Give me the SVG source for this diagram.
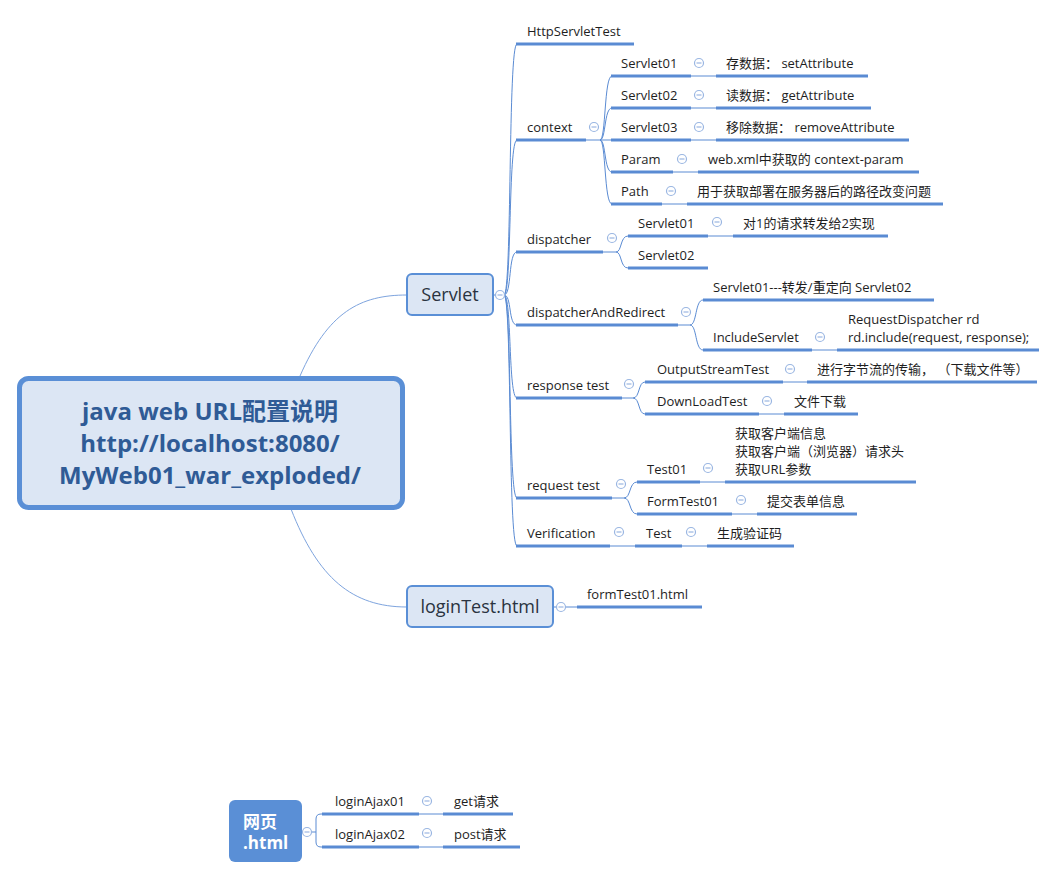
<svg xmlns="http://www.w3.org/2000/svg" width="1057" height="878" viewBox="0 0 1057 878">
<style>
text{font-family:"Open Sans","Noto Sans CJK SC",sans-serif;font-size:13px;fill:#1e1e1e}
.ul{stroke:#5a8bd3;stroke-width:3;fill:none}
.cn{stroke:#5a8bd3;stroke-width:1;fill:none}
.cc{stroke:#7ea4de;stroke-width:1;fill:none}
.tg circle{fill:#fff;stroke:#9ab6e2;stroke-width:1.2}
.tg line{stroke:#9ab6e2;stroke-width:1.2}
.box{fill:#dce6f4;stroke:#5a8fd6;stroke-width:2}
.big{font-size:18px;fill:#2a3340}
.root{font-size:24px;font-weight:bold;fill:#2f5b96}
</style>
<defs>
<g id="tog" class="tg"><circle cx="0" cy="0" r="4.5"/><line x1="-2.5" y1="0" x2="2.5" y2="0"/></g>
</defs>
<g id="connectors">
<path class="cc" d="M300,376 C328,312 360,295 407,295"/>
<path class="cc" d="M291,509 C318,578 352,607 407,607"/>
<path class="cn" d="M493,295 H504"/>
<path class="cn" d="M504,295 C512,295 508,44 517,44"/>
<path class="cn" d="M504,295 C512,295 508,140 517,140"/>
<path class="cn" d="M504,295 C512,295 508,252 517,252"/>
<path class="cn" d="M504,295 C512,295 508,325 517,325"/>
<path class="cn" d="M504,295 C512,295 508,398 517,398"/>
<path class="cn" d="M504,295 C512,295 508,498 517,498"/>
<path class="cn" d="M504,295 C512,295 508,546 517,546"/>
<path class="cn" d="M586,140 H600 C606,140 604,76 612,76"/>
<path class="cn" d="M600,140 C606,140 604,108 612,108"/>
<path class="cn" d="M600,140 H612"/>
<path class="cn" d="M600,140 C606,140 604,172 612,172"/>
<path class="cn" d="M600,140 C606,140 604,204 612,204"/>
<path class="cn" d="M691,76 H716 M691,108 H716 M691,140 H716 M673,172 H698 M662,204 H687"/>
<path class="cn" d="M603,252 H616 C622,252 620,236 628,236 M616,252 C622,252 620,268 628,268"/>
<path class="cn" d="M708,236 H733"/>
<path class="cn" d="M678,325 H690 C697,325 695,300 703,300 M690,325 C697,325 695,350 703,350"/>
<path class="cn" d="M812,350 H837"/>
<path class="cn" d="M622,398 H633 C640,398 638,382 645,382 M633,398 C640,398 638,414 645,414"/>
<path class="cn" d="M783,382 H807 M759,414 H784"/>
<path class="cn" d="M612,498 H624 C631,498 629,482 637,482 M624,498 C631,498 629,514 637,514"/>
<path class="cn" d="M700,482 H725 M732,514 H757"/>
<path class="cn" d="M610,546 H635 M682,546 H707"/>
<path class="cn" d="M553,607 H577"/>
<path class="cn" d="M302,832 H316 M324,814 H321 Q316,814 316,819 V842 Q316,847 321,847 H324"/>
<path class="cn" d="M419,814 H443 M419,847 H443"/>
</g>
<g id="root">
<rect x="19.5" y="378.5" width="383" height="129" rx="9" fill="#dce6f4" stroke="#5a8fd6" stroke-width="5"/>
<text class="root" x="210" y="420" text-anchor="middle">java web URL配置说明</text>
<text class="root" x="210" y="452" text-anchor="middle">http://localhost:8080/</text>
<text class="root" x="210" y="484" text-anchor="middle">MyWeb01_war_exploded/</text>
</g>
<g id="servlet">
<rect class="box" x="407" y="274" width="86" height="41" rx="5"/>
<text class="big" x="450" y="301" text-anchor="middle">Servlet</text>
<use href="#tog" x="500" y="295"/>
</g>
<g id="httpservlettest"><line class="ul" x1="516" y1="44" x2="634" y2="44"/><text x="527" y="36">HttpServletTest</text></g>
<g id="context"><line class="ul" x1="516" y1="140" x2="586" y2="140"/><text x="527" y="132">context</text><use href="#tog" x="594" y="127"/></g>
<g id="ctx-servlet01"><line class="ul" x1="611" y1="76" x2="691" y2="76"/><text x="621" y="68">Servlet01</text><use href="#tog" x="699" y="63"/></g>
<g id="ctx-servlet01-leaf"><line class="ul" x1="716" y1="76" x2="868" y2="76"/><text x="726" y="68">存数据： setAttribute</text></g>
<g id="ctx-servlet02"><line class="ul" x1="611" y1="108" x2="691" y2="108"/><text x="621" y="100">Servlet02</text><use href="#tog" x="699" y="95"/></g>
<g id="ctx-servlet02-leaf"><line class="ul" x1="716" y1="108" x2="871" y2="108"/><text x="726" y="100">读数据： getAttribute</text></g>
<g id="ctx-servlet03"><line class="ul" x1="611" y1="140" x2="691" y2="140"/><text x="621" y="132">Servlet03</text><use href="#tog" x="699" y="127"/></g>
<g id="ctx-servlet03-leaf"><line class="ul" x1="716" y1="140" x2="909" y2="140"/><text x="726" y="132">移除数据： removeAttribute</text></g>
<g id="ctx-param"><line class="ul" x1="611" y1="172" x2="673" y2="172"/><text x="621" y="164">Param</text><use href="#tog" x="682" y="159"/></g>
<g id="ctx-param-leaf"><line class="ul" x1="698" y1="172" x2="919" y2="172"/><text x="708" y="164">web.xml中获取的 context-param</text></g>
<g id="ctx-path"><line class="ul" x1="611" y1="204" x2="662" y2="204"/><text x="621" y="196">Path</text><use href="#tog" x="671" y="191"/></g>
<g id="ctx-path-leaf"><line class="ul" x1="687" y1="204" x2="943" y2="204"/><text x="697" y="196">用于获取部署在服务器后的路径改变问题</text></g>
<g id="dispatcher"><line class="ul" x1="516" y1="252" x2="603" y2="252"/><text x="527" y="244">dispatcher</text><use href="#tog" x="612" y="238"/></g>
<g id="disp-servlet01"><line class="ul" x1="628" y1="236" x2="708" y2="236"/><text x="638" y="228">Servlet01</text><use href="#tog" x="717" y="222"/></g>
<g id="disp-servlet01-leaf"><line class="ul" x1="733" y1="236" x2="888" y2="236"/><text x="743" y="228">对1的请求转发给2实现</text></g>
<g id="disp-servlet02"><line class="ul" x1="628" y1="268" x2="708" y2="268"/><text x="638" y="260">Servlet02</text></g>
<g id="dispatcherandredirect"><line class="ul" x1="516" y1="325" x2="678" y2="325"/><text x="527" y="317">dispatcherAndRedirect</text><use href="#tog" x="686" y="312"/></g>
<g id="dar-forward"><line class="ul" x1="703" y1="300" x2="934" y2="300"/><text x="713" y="292">Servlet01---转发/重定向 Servlet02</text></g>
<g id="dar-include"><line class="ul" x1="703" y1="350" x2="812" y2="350"/><text x="713" y="342">IncludeServlet</text><use href="#tog" x="820" y="337"/></g>
<g id="dar-include-leaf"><line class="ul" x1="837" y1="350" x2="1039" y2="350"/><text x="848" y="324">RequestDispatcher rd</text><text x="848" y="342">rd.include(request, response);</text></g>
<g id="responsetest"><line class="ul" x1="516" y1="398" x2="622" y2="398"/><text x="527" y="390">response test</text><use href="#tog" x="629" y="384"/></g>
<g id="outputstreamtest"><line class="ul" x1="645" y1="382" x2="783" y2="382"/><text x="657" y="374">OutputStreamTest</text><use href="#tog" x="790" y="369"/></g>
<g id="outputstreamtest-leaf"><line class="ul" x1="807" y1="382" x2="1037" y2="382"/><text x="817" y="374">进行字节流的传输， （下载文件等）</text></g>
<g id="downloadtest"><line class="ul" x1="645" y1="414" x2="759" y2="414"/><text x="657" y="406">DownLoadTest</text><use href="#tog" x="767" y="401"/></g>
<g id="downloadtest-leaf"><line class="ul" x1="784" y1="414" x2="858" y2="414"/><text x="794" y="406">文件下载</text></g>
<g id="requesttest"><line class="ul" x1="516" y1="498" x2="612" y2="498"/><text x="527" y="490">request test</text><use href="#tog" x="621" y="484"/></g>
<g id="test01"><line class="ul" x1="637" y1="482" x2="700" y2="482"/><text x="647" y="474">Test01</text><use href="#tog" x="708" y="468"/></g>
<g id="test01-leaf"><line class="ul" x1="725" y1="482" x2="916" y2="482"/><text x="735" y="438">获取客户端信息</text><text x="735" y="456">获取客户端（浏览器）请求头</text><text x="735" y="474">获取URL参数</text></g>
<g id="formtest01"><line class="ul" x1="637" y1="514" x2="732" y2="514"/><text x="647" y="506">FormTest01</text><use href="#tog" x="741" y="500"/></g>
<g id="formtest01-leaf"><line class="ul" x1="757" y1="514" x2="857" y2="514"/><text x="767" y="506">提交表单信息</text></g>
<g id="verification"><line class="ul" x1="516" y1="546" x2="610" y2="546"/><text x="527" y="538">Verification</text><use href="#tog" x="619" y="532"/></g>
<g id="verification-test"><line class="ul" x1="635" y1="546" x2="682" y2="546"/><text x="646" y="538">Test</text><use href="#tog" x="691" y="532"/></g>
<g id="verification-test-leaf"><line class="ul" x1="707" y1="546" x2="794" y2="546"/><text x="717" y="538">生成验证码</text></g>
<g id="logintest">
<rect class="box" x="407" y="586" width="146" height="41" rx="5"/>
<text class="big" x="480" y="613" text-anchor="middle">loginTest.html</text>
<use href="#tog" x="561" y="607"/>
</g>
<g id="formtest01html"><line class="ul" x1="577" y1="607" x2="702" y2="607"/><text x="587" y="599">formTest01.html</text></g>
<g id="wangye">
<rect x="229" y="800" width="73" height="62" rx="6" fill="#5a8fd6"/>
<text x="243" y="828" style="font-size:17px;font-weight:bold;fill:#fff">网页</text>
<text x="243" y="849" style="font-size:17px;font-weight:bold;fill:#fff">.html</text>
<use href="#tog" x="307" y="832"/>
</g>
<g id="loginajax01"><line class="ul" x1="322" y1="814" x2="419" y2="814"/><text x="335" y="806">loginAjax01</text><use href="#tog" x="427" y="801"/></g>
<g id="loginajax01-leaf"><line class="ul" x1="443" y1="814" x2="513" y2="814"/><text x="454" y="806">get请求</text></g>
<g id="loginajax02"><line class="ul" x1="322" y1="847" x2="419" y2="847"/><text x="335" y="839">loginAjax02</text><use href="#tog" x="427" y="833"/></g>
<g id="loginajax02-leaf"><line class="ul" x1="443" y1="847" x2="520" y2="847"/><text x="454" y="839">post请求</text></g>
</svg>
